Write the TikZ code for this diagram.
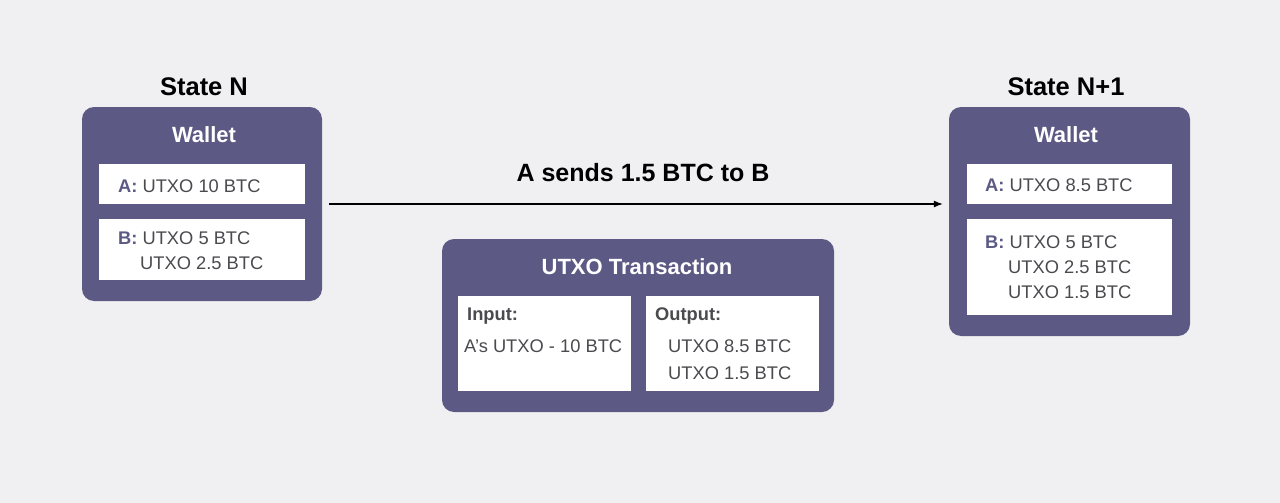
\documentclass[tikz,border=0pt]{standalone}
\usepackage{fontspec}
\setmainfont{Liberation Sans}
\usetikzlibrary{arrows.meta}
\definecolor{bg}{HTML}{F0F0F2}
\definecolor{panel}{HTML}{5C5A84}
\definecolor{txt}{HTML}{4A4A4F}
\tikzset{
  panel/.style={fill=panel, draw=none, rounded corners=12pt, inner sep=0pt},
  slot/.style={fill=white, draw=none, inner sep=0pt},
  heading/.style={font=\bfseries\fontsize{25.5}{30}\selectfont, text=black},
  ptitle/.style={font=\bfseries\fontsize{22}{26}\selectfont, text=white},
  item/.style={font=\fontsize{18.3}{22}\selectfont, text=txt, anchor=base west, inner sep=0pt},
  itemhead/.style={item, font=\bfseries\fontsize{18.3}{22}\selectfont},
  flowlabel/.style={font=\bfseries\fontsize{25}{30}\selectfont, text=black},
  flow/.style={-{Latex[length=9pt,width=7pt]}, line width=1.1pt, black}
}
\begin{document}
\begin{tikzpicture}[x=1pt,y=-1pt]
\fill[bg] (0,0) rectangle (1280,503);
\useasboundingbox (0,0) rectangle (1280,503);
% left wallet
\node[heading] (tN) at (204,87) {State N};
\node[panel, minimum width=240pt, minimum height=194pt] (w1) at (202,204) {};
\node[ptitle] (w1t) at (204,135) {Wallet};
\node[slot, minimum width=206pt, minimum height=40pt] (w1a) at (202,184) {};
\node[slot, minimum width=206pt, minimum height=61pt] (w1b) at (202,249.5) {};
\node[item] (w1a1) at (118,192) {{\bfseries\color{panel}A:} UTXO 10 BTC};
\node[item] (w1b1) at (118,244) {{\bfseries\color{panel}B:} UTXO 5 BTC};
\node[item] (w1b2) at (140,269) {UTXO 2.5 BTC};
% right wallet
\node[heading] (tN1) at (1066,87) {State N+1};
\node[panel, minimum width=241pt, minimum height=229pt] (w2) at (1069.5,221.5) {};
\node[ptitle] (w2t) at (1066,135) {Wallet};
\node[slot, minimum width=205pt, minimum height=40pt] (w2a) at (1069.5,184) {};
\node[slot, minimum width=205pt, minimum height=96pt] (w2b) at (1069.5,267) {};
\node[item] (w2a1) at (985,191) {{\bfseries\color{panel}A:} UTXO 8.5 BTC};
\node[item] (w2b1) at (985,248) {{\bfseries\color{panel}B:} UTXO 5 BTC};
\node[item] (w2b2) at (1008,273) {UTXO 2.5 BTC};
\node[item] (w2b3) at (1008,298) {UTXO 1.5 BTC};
% arrow
\draw[flow, shorten <=7pt, shorten >=6pt] (w1.east) -- (w2.west |- w1.east);
\node[flowlabel] (lab) at (643,173) {A sends 1.5 BTC to B};
% transaction
\node[panel, minimum width=392pt, minimum height=173pt] (tx) at (638,325.5) {};
\node[ptitle] (txt) at (637,267) {UTXO Transaction};
\node[slot, minimum width=173pt, minimum height=95pt] (in) at (544.5,343.5) {};
\node[slot, minimum width=173pt, minimum height=95pt] (out) at (732.5,343.5) {};
\node[itemhead] (inh) at (467,320) {Input:};
\node[item] (in1) at (464,352) {A’s UTXO - 10 BTC};
\node[itemhead] (outh) at (655,320) {Output:};
\node[item] (out1) at (668,352) {UTXO 8.5 BTC};
\node[item] (out2) at (668,379) {UTXO 1.5 BTC};
\end{tikzpicture}
\end{document}
